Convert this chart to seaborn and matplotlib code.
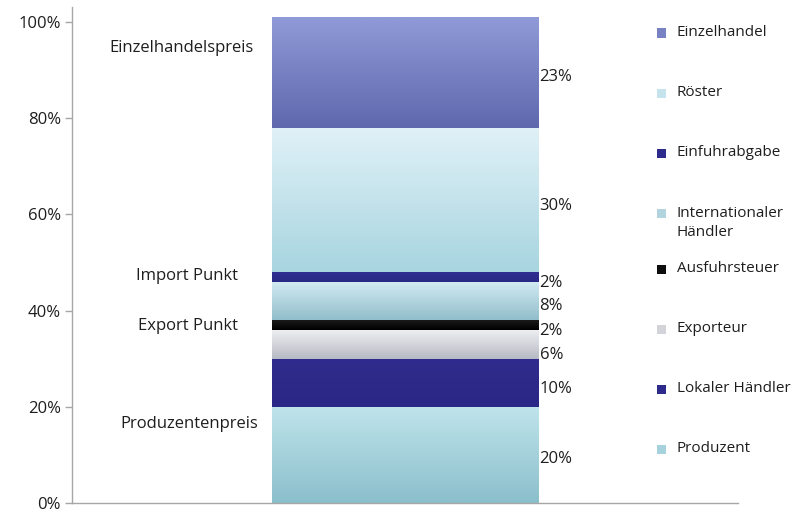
import numpy as np
import pandas as pd
import matplotlib
matplotlib.use("Agg")
import matplotlib.pyplot as plt
import matplotlib.colors as mcolors
import seaborn as sns

# Price composition of coffee along the supply chain (share of retail price)
stages = ["Produzent", "Lokaler Händler", "Exporteur", "Ausfuhrsteuer",
          "Internationaler\nHändler", "Einfuhrabgabe", "Röster", "Einzelhandel"]
shares = [0.20, 0.10, 0.06, 0.02, 0.08, 0.02, 0.30, 0.23]
share_labels = ["20%", "10%", "6%", "2%", "8%", "2%", "30%", "23%"]
# gradient colours (top, bottom) for each segment
top_colors = ["#bfe4eb", "#2f2c8d", "#eeeef1", "#1a1a1a", "#d2ebf3", "#302e91", "#e0f1f7", "#909ad7"]
bottom_colors = ["#8bbfcc", "#2a2786", "#b6bac3", "#000000", "#92becb", "#2a2886", "#a8d5e0", "#5f68ad"]
# vertical positions of the value labels (fraction of axis)
label_pos = [0.091, 0.238, 0.308, 0.358, 0.41, 0.458, 0.618, 0.886]
# markers along the chain
chain_points = ["Einzelhandelspreis", "Import Punkt", "Export Punkt", "Produzentenpreis"]
chain_pos = [0.946, 0.472, 0.368, 0.164]
chain_x = [-0.336, -0.328, -0.326, -0.324]
y_ticks = [0.0, 0.2, 0.4, 0.6, 0.8, 1.0]
y_ticklabels = ["0%", "20%", "40%", "60%", "80%", "100%"]

sns.set_style("white")
plt.rcParams["font.family"] = ["Open Sans", "DejaVu Sans"]
TXT = "#1e1e1e"

fig = plt.figure(figsize=(7.94, 5.15), dpi=100)
ax = fig.add_axes([0.0907, 0.0233, 0.8388, 0.9631])

bottom = 0.0
for i, (name, val) in enumerate(zip(stages, shares)):
    df = pd.DataFrame({"cat": ["Kaffee"], "val": [val]})
    n_before = len(ax.patches)
    sns.barplot(data=df, x="cat", y="val", bottom=bottom, width=0.4,
                color=top_colors[i], linewidth=0, ax=ax, errorbar=None,
                saturation=1)
    patch = ax.patches[n_before]
    x0, y0 = patch.get_x(), patch.get_y()
    w, h = patch.get_width(), patch.get_height()
    cmap = mcolors.LinearSegmentedColormap.from_list(
        f"g{i}", [bottom_colors[i], top_colors[i]])
    grad = np.linspace(0, 1, 64).reshape(-1, 1)
    img = ax.imshow(grad, extent=[x0, x0 + w, y0, y0 + h], origin="lower",
                    cmap=cmap, aspect="auto", zorder=patch.get_zorder() + 0.1,
                    interpolation="bilinear")
    img.set_clip_path(patch)
    ax.text(x0 + w + 0.002, label_pos[i], share_labels[i], ha="left",
            va="center", fontsize=12, color=TXT)
    bottom += val

for txt, xp, pos in zip(chain_points, chain_x, chain_pos):
    ax.text(xp, pos, txt, ha="center", va="center", fontsize=12, color=TXT)

ax.set_xlim(-0.5, 0.5)
ax.set_ylim(0, 1.031)
ax.set_yticks(y_ticks)
ax.set_yticklabels(y_ticklabels, fontsize=12, color=TXT)
ax.set_xticks([])
ax.set_xlabel("")
ax.set_ylabel("")
for s in ["top", "right"]:
    ax.spines[s].set_visible(False)
for s in ["left", "bottom"]:
    ax.spines[s].set_color("#a6a6a6")
    ax.spines[s].set_linewidth(1.0)
ax.tick_params(axis="y", length=5, width=1, color="#a6a6a6", pad=3, left=True)

# legend column on the right, listed from top of the stack downwards
legend_y = [33, 93, 153, 213, 269, 329, 389, 449]
for j, i in enumerate(range(len(stages) - 1, -1, -1)):
    ypx = legend_y[j]
    c = mcolors.to_hex(np.mean([mcolors.to_rgb(top_colors[i]),
                                mcolors.to_rgb(bottom_colors[i])], axis=0))
    fig.patches.append(plt.Rectangle((657 / 794, 1 - (ypx + 4.5) / 515),
                                     9 / 794, 9 / 515, transform=fig.transFigure,
                                     facecolor=c, edgecolor="none"))
    for k, line in enumerate(stages[i].split("\n")):
        fig.text(677 / 794, 1 - (ypx + 19 * k) / 515, line, ha="left",
                 va="center", fontsize=11, color=TXT)

fig.savefig("out.png", dpi=100)
